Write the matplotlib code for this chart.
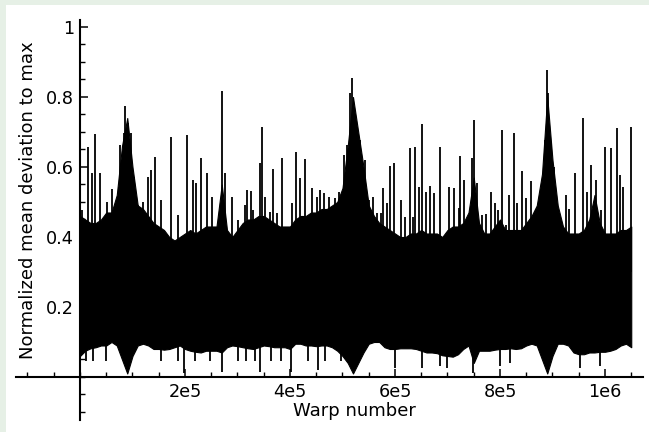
import numpy as np
import matplotlib
matplotlib.use("Agg")
import matplotlib.pyplot as plt
from matplotlib.ticker import FixedLocator, MultipleLocator, NullFormatter
from matplotlib.patches import Rectangle

# ---- data ----
grid_x = np.arange(0, 1.05e6 + 1, 1e4)

top_base = [0.46, 0.45, 0.44, 0.44, 0.45, 0.47, 0.47, 0.52, 0.66, 0.74,
            0.60, 0.49, 0.48, 0.46, 0.44, 0.43, 0.42, 0.40, 0.39, 0.40,
            0.41, 0.42, 0.41, 0.42, 0.43, 0.43, 0.43, 0.55, 0.42, 0.40,
            0.42, 0.44, 0.45, 0.45, 0.46, 0.46, 0.45, 0.44, 0.43, 0.43,
            0.43, 0.45, 0.46, 0.46, 0.47, 0.47, 0.48, 0.48, 0.49, 0.50,
            0.54, 0.66, 0.80, 0.70, 0.60, 0.49, 0.46, 0.44, 0.43, 0.42,
            0.41, 0.40, 0.40, 0.41, 0.41, 0.42, 0.41, 0.41, 0.41, 0.40,
            0.42, 0.43, 0.43, 0.44, 0.47, 0.57, 0.44, 0.41, 0.41, 0.43,
            0.45, 0.42, 0.42, 0.42, 0.42, 0.44, 0.46, 0.49, 0.58, 0.80,
            0.62, 0.49, 0.43, 0.41, 0.41, 0.41, 0.42, 0.45, 0.52, 0.44,
            0.41, 0.41, 0.41, 0.42, 0.42, 0.43]

bottom_base = [0.060, 0.075, 0.082, 0.085, 0.090, 0.090, 0.100, 0.090, 0.050, 0.010,
               0.060, 0.090, 0.095, 0.090, 0.080, 0.080, 0.078, 0.080, 0.085, 0.090,
               0.080, 0.075, 0.072, 0.070, 0.075, 0.075, 0.075, 0.070, 0.085, 0.090,
               0.088, 0.085, 0.082, 0.080, 0.085, 0.090, 0.088, 0.085, 0.085, 0.085,
               0.080, 0.095, 0.095, 0.090, 0.090, 0.088, 0.090, 0.090, 0.085, 0.075,
               0.060, 0.040, 0.010, 0.040, 0.070, 0.095, 0.100, 0.100, 0.085, 0.080,
               0.080, 0.082, 0.082, 0.082, 0.080, 0.075, 0.070, 0.070, 0.068, 0.062,
               0.060, 0.058, 0.065, 0.080, 0.090, 0.040, 0.075, 0.075, 0.075, 0.078,
               0.080, 0.080, 0.082, 0.080, 0.082, 0.090, 0.095, 0.090, 0.050, 0.010,
               0.060, 0.095, 0.095, 0.090, 0.070, 0.065, 0.065, 0.070, 0.070, 0.072,
               0.072, 0.075, 0.080, 0.090, 0.095, 0.085]

spike_x = [3.8e3, 1.5e4, 2.3e4, 2.9e4, 3.8e4, 5.1e4, 6.1e4, 7.4e4, 7.7e4, 8.3e4,
           8.6e4, 9.1e4, 9.8e4, 1.03e5, 1.1e5, 1.2e5, 1.3e5, 1.36e5, 1.43e5, 1.55e5,
           1.74e5, 1.87e5, 2.04e5, 2.15e5, 2.21e5, 2.31e5, 2.41e5, 2.51e5, 2.7e5, 2.76e5,
           2.89e5, 3.01e5, 3.14e5, 3.19e5, 3.26e5, 3.30e5, 3.43e5, 3.46e5, 3.52e5, 3.62e5,
           3.68e5, 3.75e5, 3.85e5, 4.03e5, 4.11e5, 4.2e5, 4.28e5, 4.41e5, 4.51e5, 4.58e5,
           4.65e5, 4.74e5, 4.86e5, 4.94e5, 5.03e5, 5.08e5, 5.14e5, 5.19e5, 5.24e5, 5.28e5,
           5.33e5, 5.37e5, 5.42e5, 5.5e5, 5.58e5, 5.66e5, 5.73e5, 5.78e5, 5.85e5, 5.9e5,
           5.99e5, 6.12e5, 6.2e5, 6.28e5, 6.34e5, 6.39e5, 6.45e5, 6.51e5, 6.59e5, 6.67e5,
           6.74e5, 6.86e5, 7.03e5, 7.12e5, 7.21e5, 7.24e5, 7.31e5, 7.47e5, 7.5e5, 7.56e5,
           7.66e5, 7.74e5, 7.83e5, 7.91e5, 7.97e5, 8.04e5, 8.11e5, 8.17e5, 8.27e5, 8.33e5,
           8.41e5, 8.49e5, 8.6e5, 8.68e5, 8.76e5, 8.83e5, 8.86e5, 8.89e5, 8.92e5, 8.97e5,
           9.02e5, 9.09e5, 9.25e5, 9.32e5, 9.42e5, 9.58e5, 9.66e5, 9.73e5, 9.83e5, 9.92e5,
           1.0e6, 1.011e6, 1.023e6, 1.029e6, 1.035e6, 1.049e6]
spike_top = [0.477, 0.657, 0.583, 0.694, 0.583, 0.500, 0.537, 0.543, 0.663, 0.697,
             0.774, 0.726, 0.697, 0.571, 0.490, 0.500, 0.571, 0.591, 0.629, 0.506,
             0.686, 0.463, 0.691, 0.563, 0.554, 0.626, 0.583, 0.514, 0.817, 0.583,
             0.515, 0.449, 0.490, 0.534, 0.532, 0.477, 0.611, 0.715, 0.515, 0.472,
             0.594, 0.469, 0.627, 0.497, 0.643, 0.568, 0.623, 0.540, 0.515, 0.534,
             0.525, 0.515, 0.511, 0.529, 0.634, 0.663, 0.810, 0.853, 0.749, 0.715,
             0.677, 0.583, 0.620, 0.506, 0.515, 0.469, 0.469, 0.540, 0.497, 0.603,
             0.612, 0.506, 0.458, 0.654, 0.458, 0.657, 0.544, 0.722, 0.529, 0.546,
             0.527, 0.658, 0.542, 0.539, 0.482, 0.632, 0.563, 0.625, 0.733, 0.553,
             0.463, 0.467, 0.529, 0.498, 0.477, 0.706, 0.434, 0.520, 0.696, 0.496,
             0.589, 0.510, 0.561, 0.467, 0.477, 0.591, 0.677, 0.877, 0.810, 0.667,
             0.601, 0.491, 0.520, 0.479, 0.582, 0.739, 0.529, 0.607, 0.563, 0.477,
             0.658, 0.655, 0.712, 0.577, 0.544, 0.713]

dip_x = [1.2e4, 2.5e4, 5.0e4, 1.55e5, 1.87e5, 1.99e5, 2.19e5, 2.48e5, 2.7e5, 3.01e5,
         3.17e5, 3.33e5, 3.42e5, 3.64e5, 3.83e5, 4.02e5, 4.34e5, 4.53e5, 4.66e5, 4.98e5,
         6.0e5, 6.51e5, 6.86e5, 7.0e5, 7.48e5, 8.0e5, 8.2e5, 9.52e5, 9.9e5]
dip_bottom = [0.045, 0.045, 0.045, 0.045, 0.045, 0.010, 0.045, 0.045, 0.015, 0.045,
              0.045, 0.045, 0.015, 0.045, 0.045, 0.015, 0.045, 0.020, 0.045, 0.045,
              0.025, 0.025, 0.030, 0.025, 0.010, 0.030, 0.040, 0.025, 0.030]

x_ticks = [2e5, 4e5, 6e5, 8e5, 1e6]
x_tick_labels = ["2e5", "4e5", "6e5", "8e5", "1e6"]
y_ticks = [0.2, 0.4, 0.6, 0.8, 1.0]
y_tick_labels = ["0.2", "0.4", "0.6", "0.8", "1"]

# ---- figure ----
W, H = 649, 432
fig = plt.figure(figsize=(W / 100, H / 100), dpi=100, facecolor="white")
border = "#e6f0e6"
fig.patches.append(Rectangle((0, 1 - 5 / H), 1, 5 / H, transform=fig.transFigure,
                             facecolor=border, edgecolor="none"))
fig.patches.append(Rectangle((0, 0), 6 / W, 1, transform=fig.transFigure,
                             facecolor=border, edgecolor="none"))

ax = fig.add_axes([16 / W, 12 / H, 627 / W, 400 / H])
ax.set_facecolor("white")

ax.fill_between(grid_x, bottom_base, top_base, color="black", lw=0.8, edgecolor="black")
ax.vlines(spike_x, 0.3, spike_top, color="black", lw=1.3)
ax.vlines(dip_x, 0.2, dip_bottom, color="black", lw=1.3)

ax.set_xlim(-1.219e5, 1.0724e6)
ax.set_ylim(-0.1229, 1.02)

for s in ("top", "right"):
    ax.spines[s].set_visible(False)
ax.spines["left"].set_position(("data", 0))
ax.spines["bottom"].set_position(("data", 0))
for s in ("left", "bottom"):
    ax.spines[s].set_linewidth(1.5)
    ax.spines[s].set_color("black")

ax.xaxis.set_major_locator(FixedLocator(x_ticks))
ax.set_xticklabels(x_tick_labels)
ax.xaxis.set_minor_locator(MultipleLocator(5e4))
ax.yaxis.set_major_locator(FixedLocator(y_ticks))
ax.set_yticklabels(y_tick_labels)
ax.yaxis.set_minor_locator(MultipleLocator(0.05))
ax.xaxis.set_minor_formatter(NullFormatter())
ax.yaxis.set_minor_formatter(NullFormatter())

ax.tick_params(which="major", direction="in", length=5.5, width=1.1, labelsize=12.7, pad=4.3)
ax.tick_params(which="minor", direction="in", length=3.3, width=1.0)
ax.tick_params(axis="x", which="major", pad=4.5)

fig.text(28 / W, 1 - 200 / H, "Normalized mean deviation to max", rotation=90,
         ha="center", va="center", fontsize=13)
fig.text(354.7 / W, 1 - 411 / H, "Warp number", ha="center", va="center", fontsize=13)

fig.savefig("out.png", dpi=100, facecolor=fig.get_facecolor())
